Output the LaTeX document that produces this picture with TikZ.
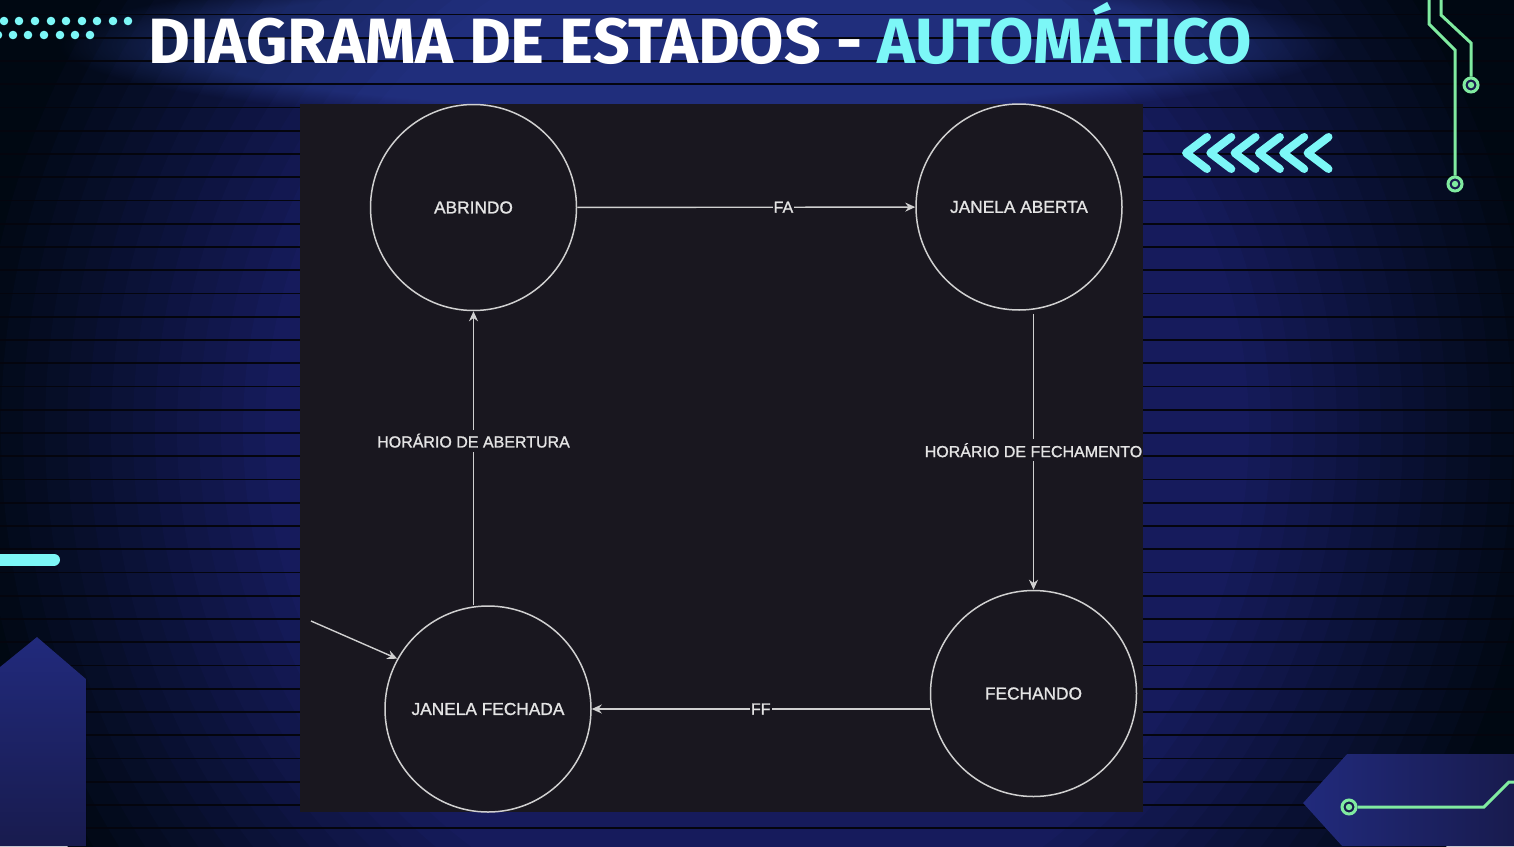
\documentclass[tikz,border=0pt]{standalone}
\usepackage{fontspec}
\usepackage{graphicx}
\setmainfont{Liberation Sans}[FakeBold=1.2]
\newfontfamily\titlefont{Fira Sans}
\usetikzlibrary{arrows.meta,fadings}
\definecolor{bgin}{HTML}{161B5C}
\definecolor{bgout}{HTML}{000812}
\definecolor{listra}{HTML}{04050E}
\definecolor{painel}{HTML}{19171F}
\definecolor{linha}{HTML}{D0D0D0}
\definecolor{texto}{HTML}{E4E4E4}
\definecolor{ciano}{HTML}{7CF7F7}
\definecolor{verde}{HTML}{80EBA0}
\definecolor{bloco}{HTML}{212A7C}
\definecolor{blocoesc}{HTML}{181B4E}
\definecolor{brilho}{HTML}{3A5AC8}
\tikzstyle{estado} = [circle, draw=linha, line width=1.5pt, minimum size=206pt, inner sep=0pt, text=texto, font=\fontsize{17.3}{18}\selectfont]
\tikzstyle{rotulo} = [fill=painel, text=texto, inner xsep=1pt, inner ysep=4pt, font=\fontsize{16}{17}\selectfont]
\tikzstyle{transicao} = [draw=linha, line width=1.4pt, ->]
\tikzstyle{trilha} = [draw=verde, line width=3pt]
\tikzstyle{pino} = [circle, draw=verde, line width=3pt, fill=blocoesc, minimum size=14pt, inner sep=0pt]
\tikzstyle{seta} = [ciano, line width=8pt, line cap=round, line join=round]

\begin{document}
\begin{tikzpicture}[x=1pt,y=-1pt,>={Stealth[length=10pt,width=9pt]}]
  \useasboundingbox (0,0) rectangle (1514,846);
  % fundo
  \begin{scope}
    \clip (0,0) rectangle (1514,846);
    \fill[bgout] (0,0) rectangle (1514,846);
    \foreach \k [evaluate=\k as \pct using \k*100/14] in {0,...,14}
      \fill[bgin!\pct!bgout] (757,430) ellipse ({800-22*\k} and {820-22*\k});
    \fill[brilho, path fading=circle with fuzzy edge 20 percent, opacity=0.3] (700,45) ellipse (640 and 80);
    \foreach \i in {0,...,36}
      \draw[listra, line width=1.8pt] (0,14.5+23.25*\i) -- (1514,14.5+23.25*\i);
  \end{scope}
  % enfeites
  \foreach \x in {4,19,35,51,66,82,97,113,128}
    \fill[ciano] (\x,21) circle (4.3);
  \foreach \x in {-2,13,28,44,60,75,90}
    \fill[ciano] (\x,35) circle (4.3);
  \draw[ciano, line width=12pt, line cap=round] (-10,559.5) -- (54,559.5);
  \fill[top color=bloco, bottom color=blocoesc] (0,667) -- (37,637) -- (86,679) -- (86,846) -- (0,846) -- cycle;
  \fill[left color=bloco, right color=blocoesc] (1303,803) -- (1347,754) -- (1514,754) -- (1514,846) -- (1342,846) -- cycle;
  \foreach \i in {0,...,5}
    \draw[seta] (1207+24.3*\i,137) -- (1186+24.3*\i,153) -- (1207+24.3*\i,169);
  % trilhas
  \node[pino] (PinoA) at (1471,85) {};
  \node[pino] (PinoB) at (1455,184) {};
  \node[pino] (PinoC) at (1349,807) {};
  \coordinate (ta1) at (1441,-3);
  \coordinate (ta2) at (1441,15);
  \coordinate (ta3) at (1471,43);
  \coordinate (tb1) at (1429,-3);
  \coordinate (tb2) at (1429,24);
  \coordinate (tb3) at (1455,50);
  \coordinate (tc1) at (1484,807);
  \coordinate (tc2) at (1509,782);
  \coordinate (tc3) at (1517,782);
  \draw[trilha] (ta1) -- (ta2) -- (ta3) -- (PinoA.north);
  \draw[trilha] (tb1) -- (tb2) -- (tb3) -- (PinoB.north);
  \draw[trilha] (PinoC.east) -- (tc1) -- (tc2) -- (tc3);
  \foreach \p in {PinoA,PinoB,PinoC}
    \fill[verde] (\p) circle (3.2);
  % titulo
  \node[anchor=base west, inner sep=0pt, text=white] (Titulo) at (148,63) {\resizebox{1104pt}{\height}{\titlefont\bfseries\fontsize{64}{64}\selectfont DIAGRAMA DE ESTADOS - \textcolor{ciano}{AUTOMÁTICO}}};
  % diagrama
  \fill[painel] (300,104) rectangle (1143,812);
  \node[estado] (Abrindo) at (473.5,207.5) {ABRINDO};
  \node[estado] (J_Aberta) at (1019,207) {JANELA ABERTA};
  \node[estado] (Fechando) at (1033.5,693.5) {FECHANDO};
  \node[estado] (J_Fechada) at (488,709) {JANELA FECHADA};
  \coordinate (Inicio) at (311,621);

  \path (Abrindo) edge[transicao] node[rotulo, pos=0.61] {FA} (J_Aberta);
  \path (J_Aberta.south -| Fechando) edge[transicao, shorten <=3pt] node[rotulo, pos=0.5] {HORÁRIO DE FECHAMENTO} (Fechando.north);
  \path (Fechando.west |- J_Fechada) edge[transicao] node[rotulo, pos=0.5] {FF} (J_Fechada.east);
  \path (J_Fechada.north -| Abrindo) edge[transicao] node[rotulo, pos=0.56] {HORÁRIO DE ABERTURA} (Abrindo.south);
  \path (Inicio) edge[transicao] (J_Fechada.151);
\end{tikzpicture}
\end{document}
